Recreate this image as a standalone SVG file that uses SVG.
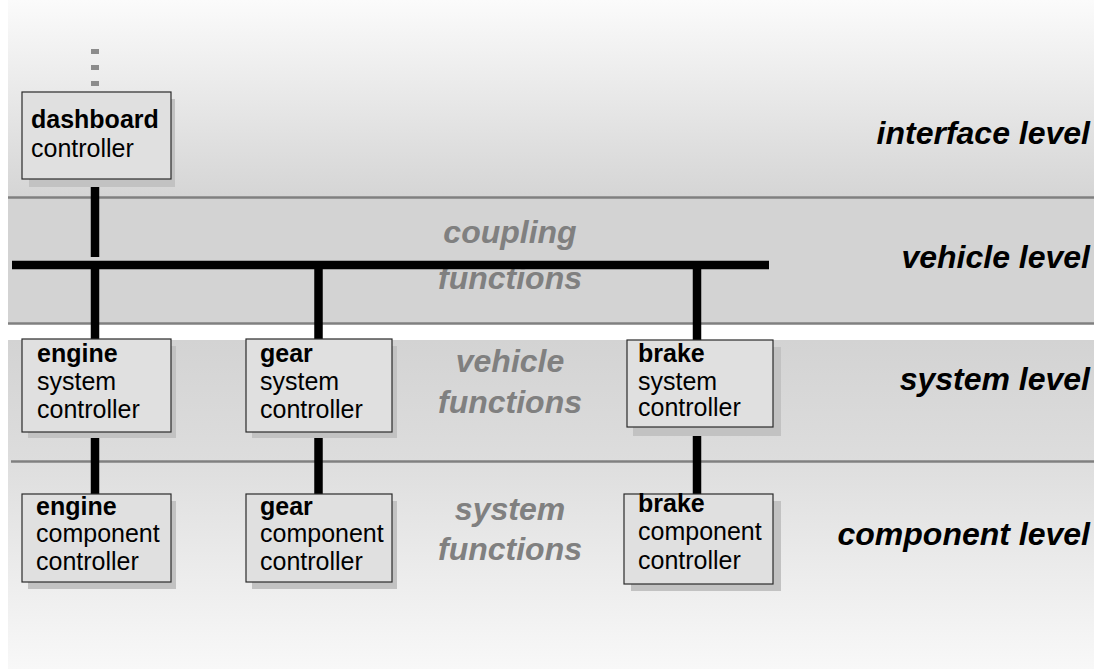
<svg xmlns="http://www.w3.org/2000/svg" width="1094" height="669" viewBox="0 0 1094 669">
<defs>
<linearGradient id="gTop" x1="0" y1="0" x2="0" y2="1"><stop offset="0" stop-color="#fbfbfb"/><stop offset="1" stop-color="#d5d5d5"/></linearGradient>
<linearGradient id="gSys" x1="0" y1="0" x2="0" y2="1"><stop offset="0" stop-color="#d3d3d3"/><stop offset="1" stop-color="#dddddd"/></linearGradient>
<linearGradient id="gComp" x1="0" y1="0" x2="0" y2="1"><stop offset="0" stop-color="#dedede"/><stop offset="1" stop-color="#f8f8f8"/></linearGradient>
<style>
.box{fill:#e0e0e0;stroke:#2a2a2a;stroke-width:1.2}
.shadow{fill:#c2c2c2}
.t{font-family:"Liberation Sans",Arial,sans-serif;font-size:25px;fill:#000}
.b{font-weight:bold}
.lvl{font-family:"Liberation Sans",Arial,sans-serif;font-size:32px;font-weight:bold;font-style:italic;fill:#000;text-anchor:end}
.fn{font-family:"Liberation Sans",Arial,sans-serif;font-size:32px;font-weight:bold;font-style:italic;fill:#808080;text-anchor:middle}
.sep{stroke:#808080;stroke-width:2.5}
.wire{stroke:#000;stroke-width:8.5}
</style>
</defs>
<rect width="1094" height="669" fill="#ffffff"/>
<g id="bands">
<rect x="8" y="0" width="1086" height="197" fill="url(#gTop)"/>
<rect x="8" y="197" width="1086" height="126" fill="#d3d3d3"/>
<rect x="8" y="340" width="1086" height="122" fill="url(#gSys)"/>
<rect x="8" y="462" width="1086" height="207" fill="url(#gComp)"/>
<line class="sep" x1="8" y1="197.5" x2="1094" y2="197.5"/>
<line class="sep" x1="8" y1="323.5" x2="1094" y2="323.5"/>
<line class="sep" x1="11" y1="461.5" x2="1094" y2="461.5"/>
</g>
<g id="level-labels">
<text class="lvl" x="1090" y="144">interface level</text>
<text class="lvl" x="1090" y="268">vehicle level</text>
<text class="lvl" x="1090" y="390">system level</text>
<text class="lvl" x="1090" y="545">component level</text>
</g>
<g id="function-labels">
<text class="fn" x="510" y="243">coupling</text>
<text class="fn" x="510" y="289">functions</text>
<text class="fn" x="510" y="372">vehicle</text>
<text class="fn" x="510" y="413">functions</text>
<text class="fn" x="510" y="520">system</text>
<text class="fn" x="510" y="560">functions</text>
</g>
<g id="connectors">
<line x1="95" y1="49" x2="95" y2="54" stroke="#8c8c8c" stroke-width="8"/>
<line x1="95" y1="65" x2="95" y2="70" stroke="#8c8c8c" stroke-width="8"/>
<line x1="95" y1="81" x2="95" y2="86" stroke="#8c8c8c" stroke-width="8"/>
<line class="wire" x1="95" y1="186" x2="95" y2="257"/>
<line class="wire" x1="12" y1="265" x2="769" y2="265"/>
<line class="wire" x1="95" y1="265" x2="95" y2="339"/>
<line class="wire" x1="318.5" y1="265" x2="318.5" y2="339"/>
<line class="wire" x1="697" y1="265" x2="697" y2="340"/>
<line class="wire" x1="95" y1="437" x2="95" y2="495"/>
<line class="wire" x1="318.5" y1="437" x2="318.5" y2="495"/>
<line class="wire" x1="697" y1="434" x2="697" y2="496"/>
</g>
<g id="dashboard">
<rect class="shadow" x="29" y="99" width="146" height="88"/>
<rect class="box" x="22" y="92" width="149" height="87"/>
<text class="t b" x="31" y="128">dashboard</text>
<text class="t" x="31" y="157">controller</text>
</g>
<g id="engine-system">
<rect class="shadow" x="28" y="346" width="148" height="92"/>
<rect class="box" x="22" y="339" width="149" height="93"/>
<text class="t b" x="37" y="362">engine</text>
<text class="t" x="37" y="390">system</text>
<text class="t" x="37" y="418">controller</text>
</g>
<g id="gear-system">
<rect class="shadow" x="252" y="346" width="145" height="92"/>
<rect class="box" x="246" y="339" width="146" height="93"/>
<text class="t b" x="260" y="362">gear</text>
<text class="t" x="260" y="390">system</text>
<text class="t" x="260" y="418">controller</text>
</g>
<g id="brake-system">
<rect class="shadow" x="633" y="347" width="148" height="89"/>
<rect class="box" x="627" y="340" width="146" height="87"/>
<text class="t b" x="638" y="362">brake</text>
<text class="t" x="638" y="390">system</text>
<text class="t" x="638" y="416">controller</text>
</g>
<g id="engine-component">
<rect class="shadow" x="28" y="501" width="148" height="88"/>
<rect class="box" x="22" y="494" width="149" height="88"/>
<text class="t b" x="36" y="515">engine</text>
<text class="t" x="36" y="542">component</text>
<text class="t" x="36" y="570">controller</text>
</g>
<g id="gear-component">
<rect class="shadow" x="252" y="501" width="145" height="88"/>
<rect class="box" x="246" y="494" width="146" height="88"/>
<text class="t b" x="260" y="515">gear</text>
<text class="t" x="260" y="542">component</text>
<text class="t" x="260" y="570">controller</text>
</g>
<g id="brake-component">
<rect class="shadow" x="631" y="501" width="150" height="90"/>
<rect class="box" x="624" y="494" width="149" height="90"/>
<text class="t b" x="638" y="512">brake</text>
<text class="t" x="638" y="540">component</text>
<text class="t" x="638" y="569">controller</text>
</g>
</svg>
